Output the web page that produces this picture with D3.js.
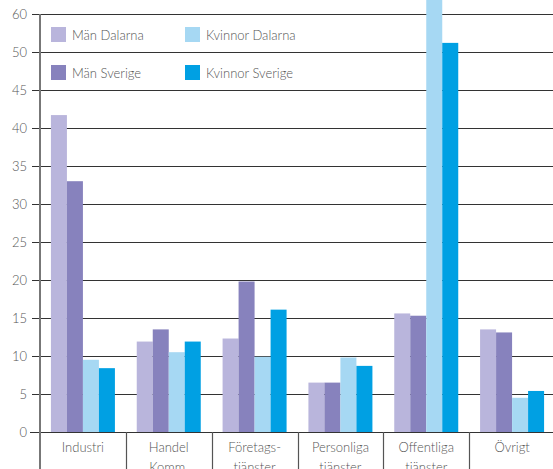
<!DOCTYPE html>
<html><head><meta charset="utf-8">
<script src="https://cdn.jsdelivr.net/npm/d3@7"></script>
<style>
body{margin:0;background:#fff;}
text{font-family:"Lato","Open Sans",sans-serif;font-weight:300;fill:#555;}
</style></head>
<body>
<svg id="c" width="553" height="469"></svg>
<script>
const categories = [["Industri"],["Handel","Komm."],["Företags-","tjänster"],["Personliga","tjänster"],["Offentliga","tjänster"],["Övrigt"]];
const seriesNames = ["Män Dalarna","Män Sverige","Kvinnor Dalarna","Kvinnor Sverige"];
const manDalarna = [41.7, 11.9, 12.3, 6.5, 15.6, 13.5];
const manSverige = [33.0, 13.5, 19.8, 6.5, 15.3, 13.1];
const kvinnorDalarna = [9.5, 10.5, 9.9, 9.8, 56.9, 4.5];
const kvinnorSverige = [8.4, 11.9, 16.1, 8.7, 51.2, 5.4];
const tickValues = [0,5,10,15,20,25,30,35,40,45,50,55];
const tickLabels = ["0","5","10","15","20","25","30","35","40","45","50","60"];
const colors = ["#b9b5dc","#8782bd","#a6d8f3","#00a0e3"];

const series = [manDalarna, manSverige, kvinnorDalarna, kvinnorSverige];
const svg = d3.select("#c");
const x0 = 40, x1 = 555, yBase = 432;
const y = d3.scaleLinear().domain([0,55]).range([yBase, 14]);
const xb = d3.scaleBand().domain(d3.range(categories.length)).range([x0, x1]).paddingInner(0).paddingOuter(0);
const xs = d3.scaleBand().domain(d3.range(4)).range([0, 64]);
const groupOffset = (xb.bandwidth() - 64) / 2;

// gridlines
svg.append("g").selectAll("line").data(tickValues.slice(1)).join("line")
  .attr("x1", 32).attr("x2", 553)
  .attr("y1", d => Math.round(y(d)) + 0.5).attr("y2", d => Math.round(y(d)) + 0.5)
  .attr("stroke", "#333").attr("stroke-width", 1);

// bars
const g = svg.append("g");
series.forEach((vals, si) => {
  g.selectAll(null).data(vals).join("rect")
    .attr("x", (d, i) => xb(i) + groupOffset + xs(si))
    .attr("width", xs.bandwidth())
    .attr("y", d => y(d))
    .attr("height", d => yBase - y(d))
    .attr("fill", colors[si]);
});

// baseline axis
svg.append("line").attr("x1", 30).attr("x2", 553).attr("y1", yBase + 0.5).attr("y2", yBase + 0.5)
  .attr("stroke", "#333").attr("stroke-width", 1.2);

// left axis
svg.append("line").attr("x1", x0).attr("x2", x0).attr("y1", 14).attr("y2", 469)
  .attr("stroke", "#777").attr("stroke-width", 2);

// category separators
svg.append("g").selectAll("line").data(d3.range(1, categories.length + 1)).join("line")
  .attr("x1", i => Math.round(xb(i) ?? x1) + 0.5).attr("x2", i => Math.round(xb(i) ?? x1) + 0.5)
  .attr("y1", yBase).attr("y2", 469)
  .attr("stroke", "#555").attr("stroke-width", 1.2);

// y tick labels
svg.append("g").selectAll("text").data(tickValues).join("text")
  .attr("x", 27).attr("y", d => y(d) + 5)
  .attr("text-anchor", "end").attr("font-size", 13)
  .text((d, i) => tickLabels[i]);

// category labels
const cl = svg.append("g").selectAll("text").data(categories).join("text")
  .attr("x", (d, i) => xb(i) + xb.bandwidth() / 2)
  .attr("y", 452).attr("text-anchor", "middle").attr("font-size", 13);
cl.selectAll("tspan").data(d => d).join("tspan")
  .attr("x", function(){ return this.parentNode.getAttribute("x"); })
  .attr("dy", (d, i) => i === 0 ? 0 : 20)
  .text(d => d);

// legend
const legPos = [[51, 27], [51, 65], [185, 27], [185, 65]];
const order = [0, 1, 2, 3];
const leg = svg.append("g").selectAll("g").data(order).join("g")
  .attr("transform", i => `translate(${legPos[i][0]},${legPos[i][1]})`);
leg.append("rect").attr("width", 15).attr("height", 15).attr("fill", i => colors[i]);
leg.append("text").attr("x", 21).attr("y", 12.5).attr("font-size", 13).text(i => seriesNames[i]);
</script>
</body></html>
